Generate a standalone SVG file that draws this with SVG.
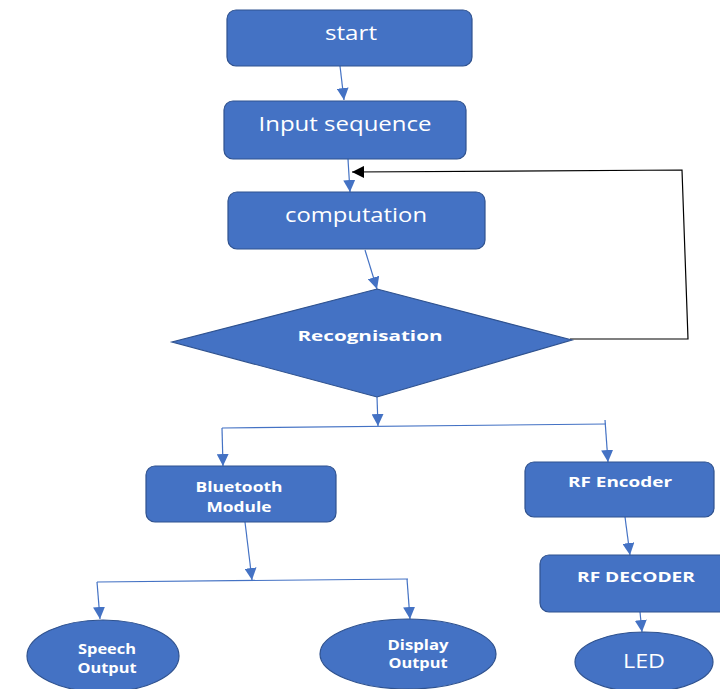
<svg xmlns="http://www.w3.org/2000/svg" width="720" height="689" viewBox="0 0 720 689">
<defs>
<style>
.n{fill:#4472C4;stroke:#2F528F;stroke-width:1.2}
.t{fill:#fff;font-family:"Open Sans","Liberation Sans",sans-serif;text-anchor:middle}
.r{font-size:20px}
.b{font-size:15px;font-weight:bold}
.c{fill:none;stroke:#4472C4;stroke-width:1.2}
.k{fill:none;stroke:#000;stroke-width:1.2}
</style>
<marker id="ab" viewBox="0 0 10 10" refX="10" refY="5" markerWidth="12" markerHeight="12" markerUnits="userSpaceOnUse" orient="auto"><path d="M0,0L10,5L0,10z" fill="#4472C4"/></marker>
<marker id="ak" viewBox="0 0 10 10" refX="10" refY="5" markerWidth="14" markerHeight="12" markerUnits="userSpaceOnUse" orient="auto"><path d="M0,0L10,5L0,10z" fill="#000"/></marker>
</defs>
<rect width="720" height="689" fill="#fff"/>
<g id="connectors">
<path class="c" d="M340,66L344,100" marker-end="url(#ab)"/>
<path class="c" d="M348,159L350,192" marker-end="url(#ab)"/>
<path class="k" d="M570,339L688,339L682,170L352,172" marker-end="url(#ak)"/>
<path class="c" d="M365,250L377,289" marker-end="url(#ab)"/>
<path class="c" d="M377,397L378,426" marker-end="url(#ab)"/>
<path class="c" d="M222,428L606,424"/>
<path class="c" d="M222,428L223,466" marker-end="url(#ab)"/>
<path class="c" d="M605,420L608,462" marker-end="url(#ab)"/>
<path class="c" d="M625,517L630,555" marker-end="url(#ab)"/>
<path class="c" d="M640,612L642,632" marker-end="url(#ab)"/>
<path class="c" d="M245,522L252,580" marker-end="url(#ab)"/>
<path class="c" d="M97,582L408,579"/>
<path class="c" d="M97,582L100,619" marker-end="url(#ab)"/>
<path class="c" d="M407,579L410,619" marker-end="url(#ab)"/>
</g>
<g id="start"><rect class="n" x="227" y="10" width="245" height="56" rx="9"/><text class="t r" x="351" y="40" textLength="52" lengthAdjust="spacingAndGlyphs">start</text></g>
<g id="input"><rect class="n" x="224" y="101" width="242" height="58" rx="9"/><text class="t r" x="345" y="131" textLength="173" lengthAdjust="spacingAndGlyphs">Input sequence</text></g>
<g id="computation"><rect class="n" x="228" y="192" width="257" height="57" rx="9"/><text class="t r" x="356" y="222" textLength="142" lengthAdjust="spacingAndGlyphs">computation</text></g>
<g id="recognisation"><path class="n" d="M377,289L572,340L377,397L172,342z"/><text class="t b" x="370" y="341" font-size="18" textLength="145" lengthAdjust="spacingAndGlyphs">Recognisation</text></g>
<g id="bluetooth"><rect class="n" x="146" y="466" width="190" height="56" rx="9"/><text class="t b" x="239" y="492" textLength="87" lengthAdjust="spacingAndGlyphs">Bluetooth</text><text class="t b" x="239" y="512" textLength="65" lengthAdjust="spacingAndGlyphs">Module</text></g>
<g id="rfencoder"><rect class="n" x="525" y="462" width="189" height="55" rx="9"/><text class="t b" x="620" y="487" textLength="104" lengthAdjust="spacingAndGlyphs">RF Encoder</text></g>
<g id="rfdecoder"><rect class="n" x="540" y="555" width="190" height="57" rx="9"/><text class="t b" x="636" y="582" textLength="118" lengthAdjust="spacingAndGlyphs">RF DECODER</text></g>
<g id="speech"><ellipse class="n" cx="103" cy="656" rx="76" ry="36"/><text class="t b" x="107" y="654" textLength="58" lengthAdjust="spacingAndGlyphs">Speech</text><text class="t b" x="107" y="673" textLength="59" lengthAdjust="spacingAndGlyphs">Output</text></g>
<g id="display"><ellipse class="n" cx="408" cy="654" rx="88" ry="35"/><text class="t b" x="418" y="650" textLength="61" lengthAdjust="spacingAndGlyphs">Display</text><text class="t b" x="418" y="668" textLength="59" lengthAdjust="spacingAndGlyphs">Output</text></g>
<g id="led"><ellipse class="n" cx="644" cy="662" rx="69" ry="30"/><text class="t r" x="644" y="668" font-size="19" textLength="42" lengthAdjust="spacingAndGlyphs">LED</text></g>
</svg>
